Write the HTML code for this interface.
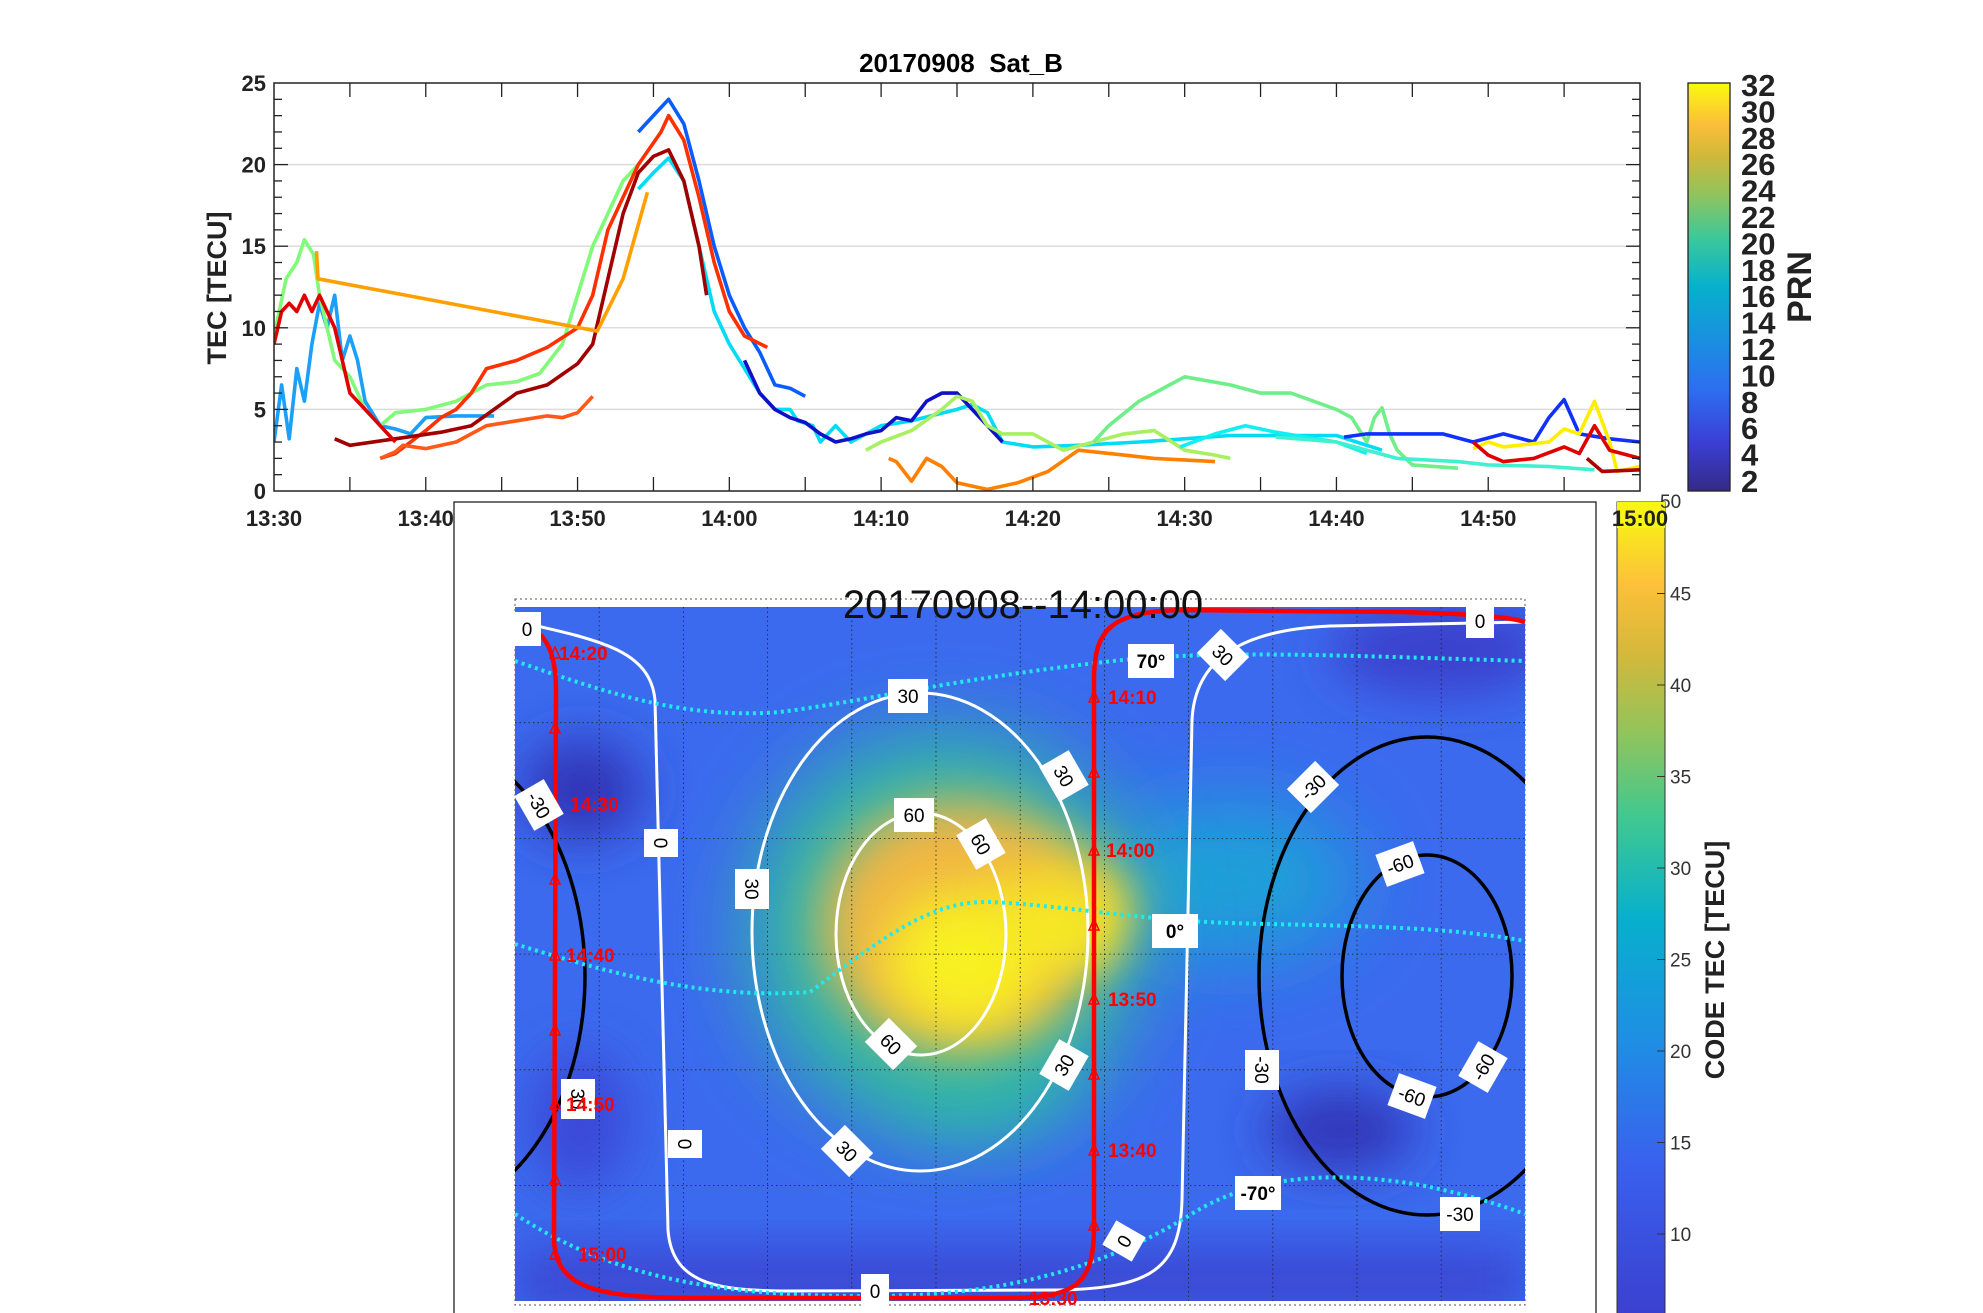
<!DOCTYPE html>
<html><head><meta charset="utf-8"><style>
html,body{margin:0;padding:0;background:#fff;}
svg{display:block;font-family:"Liberation Sans",sans-serif;}
</style></head><body>
<svg id="root" width="1983" height="1313" viewBox="0 0 1983 1313" xmlns="http://www.w3.org/2000/svg">
<defs>
<linearGradient id="parula" x1="0" y1="1" x2="0" y2="0">
<stop offset="0" stop-color="#352a87"/><stop offset="0.12" stop-color="#3b3fd6"/><stop offset="0.25" stop-color="#2d6ff0"/><stop offset="0.37" stop-color="#1a8fe0"/><stop offset="0.5" stop-color="#07b0cc"/><stop offset="0.62" stop-color="#3cc89a"/><stop offset="0.72" stop-color="#8cc460"/><stop offset="0.82" stop-color="#d0b83a"/><stop offset="0.9" stop-color="#fcbe3a"/><stop offset="1" stop-color="#f9fb0e"/>
</linearGradient>
<linearGradient id="parula2" x1="0" y1="1" x2="0" y2="0">
<stop offset="0" stop-color="#3b3ccc"/><stop offset="0.2" stop-color="#3a60ee"/><stop offset="0.35" stop-color="#1f8ee4"/><stop offset="0.5" stop-color="#07b0cc"/><stop offset="0.62" stop-color="#40c890"/><stop offset="0.72" stop-color="#90c45c"/><stop offset="0.82" stop-color="#d6b83a"/><stop offset="0.9" stop-color="#fcc03a"/><stop offset="1" stop-color="#f9fb0e"/>
</linearGradient>
<clipPath id="mapclip"><rect x="515" y="607" width="1010" height="694"/></clipPath>
<clipPath id="plotclip"><rect x="274" y="83" width="1366" height="408"/></clipPath>
<filter id="b40" x="-50%" y="-50%" width="200%" height="200%"><feGaussianBlur stdDeviation="40"/></filter>
<filter id="b25" x="-50%" y="-50%" width="200%" height="200%"><feGaussianBlur stdDeviation="25"/></filter>
</defs>

<!-- ============ MAP FIGURE ============ -->
<rect x="454" y="502" width="1142" height="820" fill="#fff" stroke="#222" stroke-width="1.3"/>
<rect x="515" y="599" width="1010" height="706" fill="none" stroke="#555" stroke-width="1" stroke-dasharray="2,3"/>
<g clip-path="url(#mapclip)">
  <rect x="515" y="607" width="1010" height="694" fill="#3b6aee"/>
  <rect x="515" y="1250" width="1010" height="60" fill="#3a45d2" filter="url(#b25)"/>
  <ellipse cx="1440" cy="650" rx="110" ry="45" fill="#3a40cc" filter="url(#b25)"/>
  <ellipse cx="582" cy="790" rx="60" ry="50" fill="#3236b8" filter="url(#b25)"/>
  <ellipse cx="1340" cy="1130" rx="75" ry="40" fill="#3236b8" filter="url(#b25)"/>
  <ellipse cx="580" cy="1120" rx="50" ry="70" fill="#3a48d8" filter="url(#b25)"/>
  <ellipse cx="1230" cy="880" rx="130" ry="80" fill="#1ca0d8" filter="url(#b40)"/>
  <ellipse cx="985" cy="1070" rx="90" ry="60" fill="#2ab0b8" filter="url(#b40)"/>
  <ellipse cx="945" cy="930" rx="200" ry="200" fill="#30b8a4" filter="url(#b40)"/>
  <ellipse cx="960" cy="925" rx="140" ry="125" fill="#f0b644" filter="url(#b25)"/>
  <ellipse cx="1060" cy="905" rx="70" ry="50" fill="#f4d030" filter="url(#b25)"/>
  <ellipse cx="965" cy="960" rx="80" ry="70" fill="#f8f020" filter="url(#b25)"/>
  <ellipse cx="1060" cy="930" rx="55" ry="35" fill="#f6ec20" filter="url(#b25)"/>
  <g id="grid" stroke="#222" stroke-width="0.8" stroke-dasharray="1.5,3"></g>
  <ellipse cx="921" cy="934" rx="85" ry="121" fill="none" stroke="#fff" stroke-width="3"/>
  <ellipse cx="920" cy="932" rx="168" ry="239" fill="none" stroke="#fff" stroke-width="3"/>
  <path d="M515,621 C600,640 650,650 655,700 L668,1230 C672,1285 720,1290 780,1291 L1060,1290 C1150,1288 1180,1270 1182,1200 L1192,720 C1195,660 1240,630 1330,626 L1525,622" fill="none" stroke="#fff" stroke-width="3"/>
  <ellipse cx="1427" cy="976" rx="85" ry="121" fill="none" stroke="#000" stroke-width="3.5"/>
  <ellipse cx="1427" cy="976" rx="168" ry="239" fill="none" stroke="#000" stroke-width="3.5"/>
  <ellipse cx="417" cy="976" rx="168" ry="239" fill="none" stroke="#000" stroke-width="3.5"/>
  <path d="M515,661 C600,690 680,720 780,712 C860,702 950,680 1096,663 C1200,650 1300,654 1525,661" fill="none" stroke="#22e8f0" stroke-width="4" stroke-dasharray="3,4"/>
  <path d="M515,944 C600,970 700,1000 810,992 C880,940 930,900 990,902 C1060,905 1140,920 1230,923 C1330,926 1440,925 1525,941" fill="none" stroke="#22e8f0" stroke-width="4" stroke-dasharray="3,4"/>
  <path d="M515,1214 C600,1270 700,1298 880,1296 C1000,1295 1100,1270 1190,1215 C1260,1170 1350,1173 1420,1185 C1470,1195 1500,1205 1525,1214" fill="none" stroke="#22e8f0" stroke-width="4" stroke-dasharray="3,4"/>
  <path d="M515,622 C545,628 556,650 556,690 L554,1240 C556,1290 600,1298 700,1298 L1010,1298 C1080,1298 1093,1280 1094,1230 L1094,680 C1094,630 1110,612 1180,610 L1400,612 C1470,614 1505,616 1525,622" fill="none" stroke="#f00" stroke-width="4.5"/>
  <g id="tri" fill="none" stroke="#f00" stroke-width="1.5"></g>
</g>
<text x="1023" y="618" font-size="40" text-anchor="middle" fill="#111">20170908--14:00:00</text>
<g id="ctlabels" font-size="19" text-anchor="middle"></g>
<g id="timelabels" font-size="19" font-weight="bold" fill="#f00"></g>

<rect x="1617" y="502" width="48" height="830" fill="url(#parula2)" stroke="#333" stroke-width="1"/>
<g id="mcbticks" font-size="19" fill="#333"></g>
<text transform="translate(1724,960) rotate(-90)" font-size="27" font-weight="bold" text-anchor="middle" fill="#222">CODE TEC [TECU]</text>
<rect x="1617" y="502" width="48" height="26" fill="#f9f416"/>
<text x="1660" y="508" font-size="19" fill="#333">50</text>

<!-- ============ TOP CHART ============ -->
<text x="961" y="72" font-size="26" font-weight="bold" text-anchor="middle" fill="#000">20170908&#160; Sat_B</text>
<rect x="274" y="83" width="1366" height="408" fill="#fff"/>
<g id="hgrid" stroke="#dcdcdc" stroke-width="1.5"></g>
<g id="series" clip-path="url(#plotclip)" fill="none" stroke-width="3.6" stroke-linejoin="round"></g>
<rect x="274" y="83" width="1366" height="408" fill="none" stroke="#222" stroke-width="1.5"/>
<g id="axticks" stroke="#222" stroke-width="1.3"></g>
<g id="ylabels" font-size="22" font-weight="bold" text-anchor="end" fill="#222"></g>
<g id="xlabels" font-size="22" font-weight="bold" text-anchor="middle" fill="#222"></g>
<text transform="translate(226,288) rotate(-90)" font-size="27" font-weight="bold" text-anchor="middle" fill="#222">TEC [TECU]</text>
<rect x="1688" y="83" width="42" height="408" fill="url(#parula)" stroke="#222" stroke-width="1.3"/>
<g id="cbticks" font-size="31" font-weight="bold" fill="#222"></g>
<text transform="translate(1811,287) rotate(-90)" font-size="34" font-weight="bold" text-anchor="middle" fill="#222">PRN</text>

<script>
var NS="http://www.w3.org/2000/svg";
var xTicks=[0,10,20,30,40,50,60,70,80,90];
var xTickLabels=["13:30","13:40","13:50","14:00","14:10","14:20","14:30","14:40","14:50","15:00"];
var yTicks=[0,5,10,15,20,25];
var prnTicks=[2,4,6,8,10,12,14,16,18,20,22,24,26,28,30,32];
var seriesColors=["#1aa0f8","#80fa78","#00dcf4","#0a5cff","#ff3000","#ff5818","#a00000","#e00000","#ffa000","#1010c8","#a8f060","#ff8000","#70ee8a","#1030ff","#10f0f0","#40f0d0","#ffee00","#e00000","#b00000"];
var s0=[[0,3],[0.5,6.5],[1,3.2],[1.5,7.5],[2,5.5],[2.5,9],[3,11.5],[3.5,10],[4,12],[4.5,8],[5,9.5],[5.5,8],[6,5.5],[7,4],[8,3.8],[9,3.5],[10,4.5],[12,4.6],[14.5,4.6]];
var s1=[[0,9.5],[0.8,13],[1.5,14],[2,15.4],[2.6,14.5],[3,12],[4,8],[5,7],[6,5],[7,4],[8,4.8],[10,5],[12,5.5],[14,6.5],[16,6.7],[17.5,7.2],[19,9],[20,12],[21,15],[22,17],[23,19],[24,20]];
var s2=[[24,18.5],[25,19.5],[26,20.4],[27,19],[28,15],[29,11],[30,9],[31,7.5],[32,6],[33,5],[34,5],[34.5,4.3],[35.5,4],[36,3],[37,4],[38,3],[39,3.5],[40,4],[42,4.3],[45,5],[46,5.3],[47,4.8],[48,3],[50,2.7],[53,2.8],[57,3],[60,3.2],[63,3.4],[66,3.4],[70,3.4],[73,2.5]];
var s3=[[24,22],[25,23],[26,24],[27,22.5],[28,19],[29,15],[30,12],[31,10],[32,8.5],[33,6.5],[34,6.3],[35,5.8]];
var s4=[[7,2],[8,2.3],[9,3],[10,3.7],[11,4.5],[12,5],[13,6],[14,7.5],[16,8],[18,8.8],[20,10],[21,12],[22,16],[24,20],[25.5,22],[26,23],[27,21.5],[28,18],[29,14],[30,11],[31,9.5],[32.5,8.8]];
var s5=[[7,2],[8,2.4],[8.5,2.8],[10,2.6],[12,3],[14,4],[16,4.3],[18,4.6],[19,4.5],[20,4.8],[21,5.8]];
var s6=[[4,3.2],[5,2.8],[8,3.2],[11,3.6],[13,4],[14.5,5],[16,6],[18,6.5],[20,7.8],[21,9],[22,13],[23,17],[24,19.5],[25,20.5],[26,20.9],[27,19],[28,15],[28.5,12]];
var s7=[[0,9],[0.5,11],[1,11.5],[1.5,11],[2,12],[2.5,11],[3,12],[3.5,11],[4,10],[4.5,8],[5,6],[6,5],[7,4],[8,3]];
var s8=[[2.8,14.7],[2.9,13],[21.3,9.8],[23,13],[24.6,18.3]];
var s9=[[31,8],[32,6],[33,5],[34,4.5],[35,4.2],[36,3.5],[37,3],[38,3.2],[39,3.5],[40,3.7],[41,4.5],[42,4.3],[43,5.5],[44,6],[45,6],[46,5],[47,4],[48,3]];
var s10=[[39,2.5],[40,3],[42,3.7],[44,5],[45,5.8],[46,5.5],[47,4],[48,3.5],[50,3.5],[52,2.5],[54,3],[56,3.5],[58,3.7],[60,2.5],[62,2.2],[63,2]];
var s11=[[40.5,2],[41,1.8],[42,0.6],[43,2],[44,1.5],[45,0.5],[46,0.3],[47,0.1],[48,0.3],[49,0.5],[51,1.2],[53,2.5],[56,2.2],[58,2],[62,1.8]];
var s12=[[54,3],[55,4],[57,5.5],[58,6],[60,7],[63,6.5],[65,6],[67,6],[70,5],[71,4.5],[72,3],[72.5,4.5],[73,5.1],[73.5,3.5],[74,2.5],[75,1.6],[78,1.4]];
var s13=[[70.5,3.3],[72,3.5],[77,3.5],[79,3],[81,3.5],[83,3],[84,4.5],[85,5.6],[86,3.5],[88,3.2],[90,3]];
var s14=[[59.7,2.7],[62,3.5],[64,4],[66,3.6],[68,3.3],[70,3],[72,2.3]];
var s15=[[66,3.3],[70,3],[74,2],[78,1.8],[80,1.6],[84,1.5],[87,1.3]];
var s16=[[79,2.6],[80,3],[81,2.7],[84,3],[85,3.8],[86,3.5],[87,5.5],[88,3],[88.5,1.2],[90,1.5]];
var s17=[[79,3],[80,2.2],[81,1.8],[83,2],[85,2.7],[86,2.3],[87,4],[88,2.5],[90,2]];
var s18=[[86.5,2],[87.5,1.2],[90,1.3]];
var allSeries=[s0,s1,s2,s3,s4,s5,s6,s7,s8,s9,s10,s11,s12,s13,s14,s15,s16,s17,s18];
var mapTickValues=[50,45,40,35,30,25,20,15,10];
var trackTimes=["14:20","14:30","14:40","14:50","15:00","13:30","13:40","13:50","14:00","14:10"];
var trackLabelX=[559,570,566,566,578,1029,1108,1108,1106,1108];
var trackLabelY=[660,811,962,1111,1261,1305,1157,1006,857,704];
var ctText=["0","0","70°","30","30","30","60","60","-30","-30","0","30","-60","0°","60","30","-30","-60","-60","30","0","30","-70°","-30","0","0"];
var ctX=[527,1480,1151,908,1223,1064,914,981,1313,539,661,752,1400,1175,891,1064,1262,1483,1412,578,685,847,1258,1460,1124,875];
var ctY=[629,621,661,696,655,776,815,844,787,805,843,889,864,931,1044,1065,1070,1067,1096,1099,1144,1151,1193,1214,1241,1291];
var ctRot=[0,0,0,0,45,60,0,60,-45,60,90,90,-20,0,45,-60,90,-60,20,90,90,45,0,0,-60,0];

var X0=274,X1=1640,Y0=491,Y1=83;
function xs(t){return X0+t/90*(X1-X0);}
function ys(v){return Y0-v/25*(Y0-Y1);}
function mk(tag,parent){var e=document.createElementNS(NS,tag);document.getElementById(parent).appendChild(e);return e;}

yTicks.forEach(function(v){
  if(v>0&&v<25){var g=mk('line','hgrid');g.setAttribute('x1',X0);g.setAttribute('x2',X1);g.setAttribute('y1',ys(v));g.setAttribute('y2',ys(v));
  
  }
  var t=mk('text','ylabels');t.setAttribute('x',X0-8);t.setAttribute('y',ys(v)+8);t.textContent=v;
  
  
});
for(var v=1;v<25;v++){
  var big=(v%5==0)?14:8;
  [[X0,X0+big],[X1-big,X1]].forEach(function(p){var l=mk('line','axticks');l.setAttribute('x1',p[0]);l.setAttribute('x2',p[1]);l.setAttribute('y1',ys(v));l.setAttribute('y2',ys(v));});
}
for(var m=5;m<90;m+=5){
  [[Y0,Y0-14],[Y1,Y1+14]].forEach(function(p){var l=mk('line','axticks');l.setAttribute('x1',xs(m));l.setAttribute('x2',xs(m));l.setAttribute('y1',p[0]);l.setAttribute('y2',p[1]);});
}
xTicks.forEach(function(t,i){
  var e=mk('text','xlabels');e.setAttribute('x',xs(t));e.setAttribute('y',526);e.textContent=xTickLabels[i];
  
  
});
allSeries.forEach(function(s,i){
  var p=mk('polyline','series');
  p.setAttribute('points',s.map(function(d){return xs(d[0]).toFixed(1)+','+ys(d[1]).toFixed(1);}).join(' '));
  p.setAttribute('stroke',seriesColors[i]);
  
  
});
prnTicks.forEach(function(n){
  var y=481-(n-2)/30*(481-85);
  var l=mk('line','axticks');l.setAttribute('x1',1722);l.setAttribute('x2',1730);l.setAttribute('y1',y);l.setAttribute('y2',y);
  var t=mk('text','cbticks');t.setAttribute('x',1741);t.setAttribute('y',y+11);t.textContent=n;
  
  
});
mapTickValues.forEach(function(v){
  var y=502+(50-v)/5*91.5;
  var l=mk('line','mcbticks');l.setAttribute('x1',1657);l.setAttribute('x2',1665);l.setAttribute('y1',y);l.setAttribute('y2',y);l.setAttribute('stroke','#333');
  if(v<50){var t=mk('text','mcbticks');t.setAttribute('x',1670);t.setAttribute('y',y+7);t.textContent=v;
  
  }
});
for(var k=1;k<12;k++){var l=mk('line','grid');var x=515+k*84.2;l.setAttribute('x1',x);l.setAttribute('x2',x);l.setAttribute('y1',607);l.setAttribute('y2',1301);}
for(var k=1;k<6;k++){var l=mk('line','grid');var y=607+k*115.7;l.setAttribute('x1',515);l.setAttribute('x2',1525);l.setAttribute('y1',y);l.setAttribute('y2',y);}
trackLabelX.forEach(function(x,i){
  var tx=i<5?555:1094, ty=trackLabelY[i]-7;
  [0,1].forEach(function(j){var yy=ty+j*75; if(yy>1290)return;
  var p=mk('path','tri');p.setAttribute('d','M'+(tx-5)+','+(yy+5)+' L'+tx+','+(yy-6)+' L'+(tx+5)+','+(yy+5)+' Z');});
});
trackTimes.forEach(function(s,i){
  var t=mk('text','timelabels');t.setAttribute('x',trackLabelX[i]);t.setAttribute('y',trackLabelY[i]);t.textContent=s;
  
  
});
ctText.forEach(function(s,i){
  var g=mk('g','ctlabels');g.setAttribute('transform','translate('+ctX[i]+','+ctY[i]+') rotate('+ctRot[i]+')');
  
  
  var bold=s.indexOf('°')>=0;
  var w=bold?46:(s.length>1?40:28);
  var r=document.createElementNS(NS,'rect');r.setAttribute('x',-w/2);r.setAttribute('y',-17);r.setAttribute('width',w);r.setAttribute('height',34);r.setAttribute('fill','#fff');g.appendChild(r);
  var t=document.createElementNS(NS,'text');t.setAttribute('y',7);t.textContent=s;if(bold)t.setAttribute('font-weight','bold');g.appendChild(t);
});
</script>
</svg>
</body></html>
